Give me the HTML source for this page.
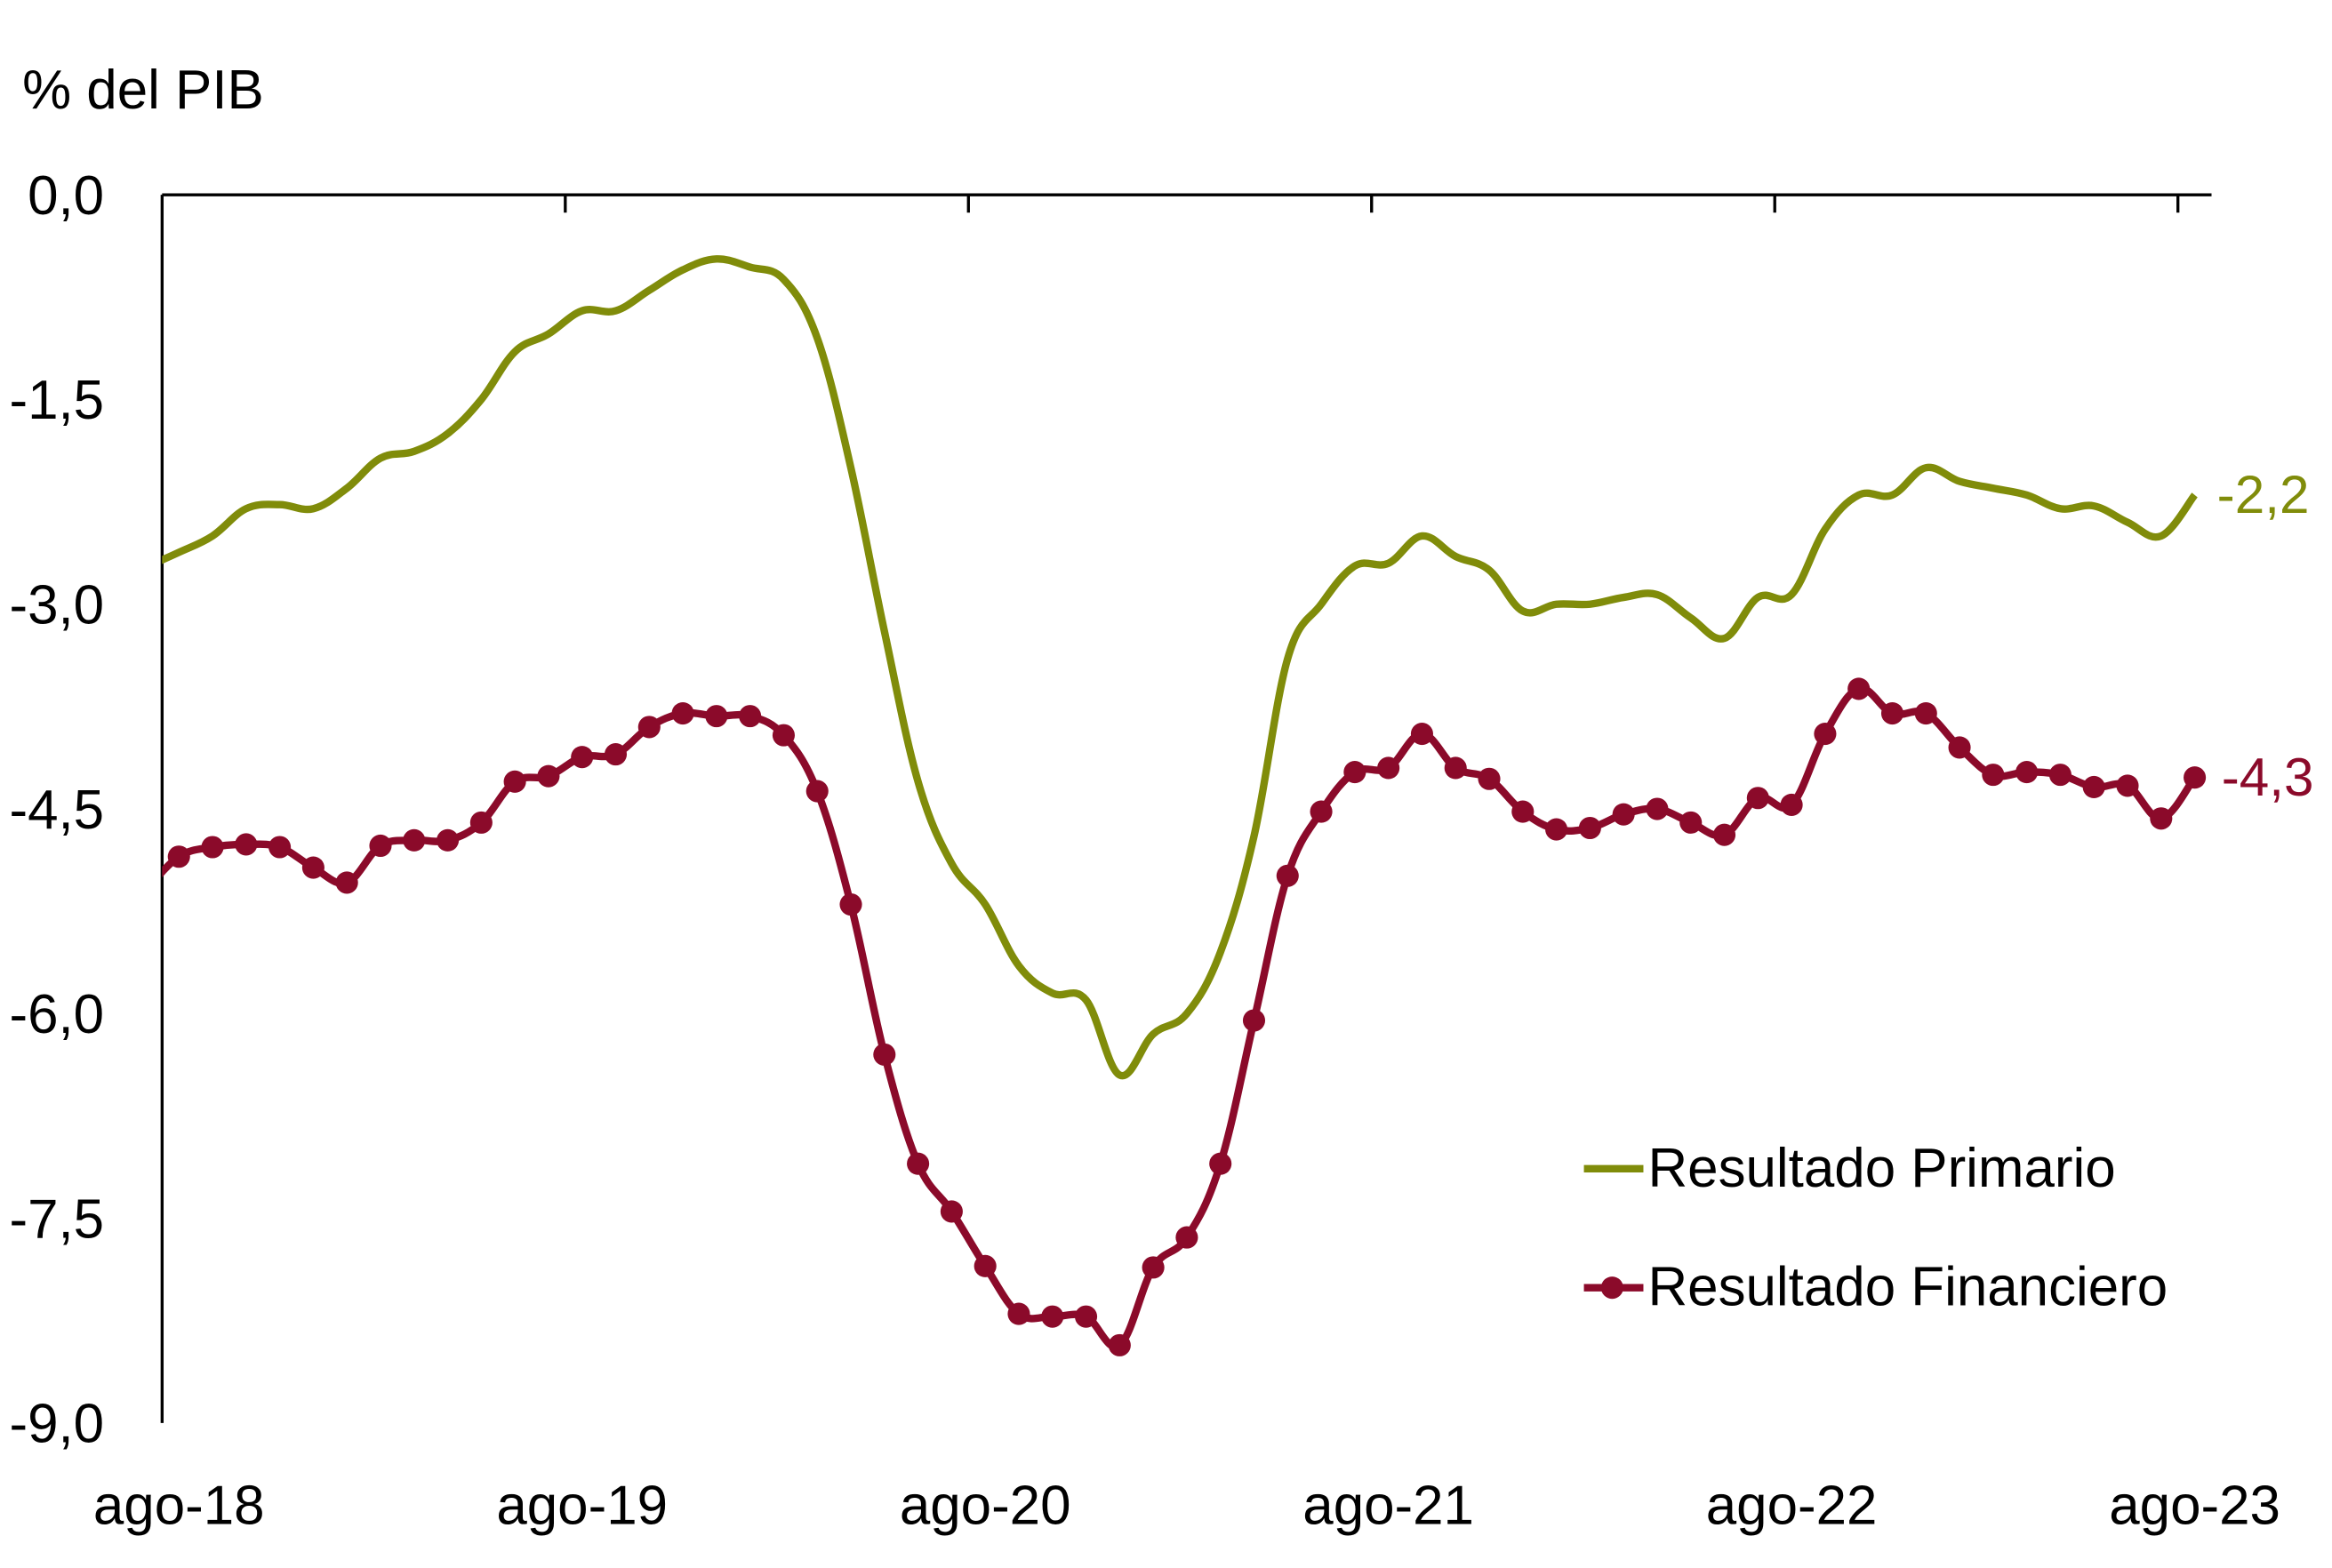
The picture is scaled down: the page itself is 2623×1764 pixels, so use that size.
<!DOCTYPE html>
<html><head><meta charset="utf-8"><style>
html,body{margin:0;padding:0;background:#fff}
svg{display:block;font-family:"Liberation Sans",sans-serif}
</style></head><body>
<svg id="chart" width="2623" height="1764" viewBox="0 0 1568 1054.5" xmlns="http://www.w3.org/2000/svg">
<defs><clipPath id="plotclip"><rect x="109" y="100" width="1400" height="880"/></clipPath></defs>
<text x="15" y="73" font-size="37" fill="#000">% del PIB</text>
<g id="yaxis"></g>
<g id="xaxis"></g>
<g id="series" clip-path="url(#plotclip)"></g>
<g id="labels"></g>
<g>
 <g>
  <line x1="1065" y1="786" x2="1105" y2="786" stroke="#808c0a" stroke-width="5"/>
  <text x="1108" y="798" font-size="37" fill="#000">Resultado Primario</text>
 </g>
 <g>
  <line x1="1065" y1="866" x2="1105" y2="866" stroke="#8b0a2a" stroke-width="5"/>
  <circle cx="1084" cy="866" r="7.5" fill="#8b0a2a"/>
  <text x="1108" y="878" font-size="37" fill="#000">Resultado Financiero</text>
 </g>
</g>
</svg>
<script>
const categories = ["jul-18"].concat((function(){const m=["ago","sep","oct","nov","dic","ene","feb","mar","abr","may","jun","jul"];const out=[];let y=18;for(let i=0;i<61;i++){const mm=m[i%12];if(mm==="ene")y++;out.push(mm+"-"+y);}return out;})());
const primario = [-2.73,-2.62,-2.5,-2.3,-2.27,-2.3,-2.15,-1.93,-1.88,-1.75,-1.5,-1.15,-1.02,-0.85,-0.85,-0.7,-0.55,-0.47,-0.53,-0.62,-1.05,-2.0,-3.2,-4.3,-4.9,-5.2,-5.65,-5.85,-5.9,-6.45,-6.15,-6.0,-5.55,-4.7,-3.4,-3.0,-2.72,-2.7,-2.5,-2.65,-2.75,-3.05,-3.0,-3.0,-2.95,-2.93,-3.1,-3.25,-2.95,-2.93,-2.45,-2.2,-2.2,-2.0,-2.1,-2.15,-2.2,-2.3,-2.28,-2.4,-2.5,-2.2];
const financiero = [-5.1,-4.85,-4.78,-4.76,-4.78,-4.93,-5.04,-4.77,-4.73,-4.73,-4.6,-4.3,-4.26,-4.12,-4.1,-3.9,-3.8,-3.82,-3.82,-3.96,-4.37,-5.2,-6.3,-7.1,-7.45,-7.85,-8.2,-8.22,-8.22,-8.43,-7.86,-7.64,-7.1,-6.05,-4.99,-4.52,-4.23,-4.2,-3.95,-4.2,-4.28,-4.52,-4.65,-4.64,-4.54,-4.5,-4.6,-4.69,-4.42,-4.47,-3.95,-3.62,-3.8,-3.8,-4.05,-4.25,-4.23,-4.25,-4.34,-4.33,-4.57,-4.27];
const yTicks = [0,-1.5,-3,-4.5,-6,-7.5,-9];
const yTickLabels = ["0,0","-1,5","-3,0","-4,5","-6,0","-7,5","-9,0"];
const xTickLabels = ["ago-18","ago-19","ago-20","ago-21","ago-22","ago-23"];
const endLabels = ["-2,2","-4,3"];

const NS="http://www.w3.org/2000/svg";
const X0=109, BAND=22.59, Y0=131, Y1=957, VMIN=-9, VMAX=0;
function xScale(i){return X0+(i-1)*BAND+BAND/2;} // index 0 = jul-18 (clipped)
function yScale(v){return Y0+(VMAX-v)/(VMAX-VMIN)*(Y1-Y0);}
function el(t,a,p){const e=document.createElementNS(NS,t);for(const k in a)e.setAttribute(k,a[k]);p.appendChild(e);return e;}
const ya=document.getElementById('yaxis'), xa=document.getElementById('xaxis');
el('line',{x1:X0,y1:Y0,x2:X0,y2:Y1,stroke:'#000','stroke-width':2},ya);
yTicks.forEach((v,i)=>{const t=el('text',{x:70,y:yScale(v)+13,'font-size':37,'text-anchor':'end',fill:'#000'},ya);t.textContent=yTickLabels[i];

});
el('line',{x1:X0,y1:Y0,x2:1487,y2:Y0,stroke:'#000','stroke-width':2},xa);
xTickLabels.forEach((lab,j)=>{const i=1+j*12;const c=xScale(i);
 if(j>0){const tk=el('line',{x1:c-BAND/2,y1:Y0,x2:c-BAND/2,y2:Y0+12,stroke:'#000','stroke-width':2},xa);
 
 }
 const t=el('text',{x:c,y:1025,'font-size':37,'text-anchor':'middle',fill:'#000'},xa);t.textContent=lab;
 
 });
function smoothPath(vals){const p=vals.map((v,i)=>[xScale(i),yScale(v)]);let d='M'+p[0][0]+','+p[0][1];
 for(let i=0;i<p.length-1;i++){const a=p[Math.max(0,i-1)],b=p[i],c=p[i+1],e=p[Math.min(p.length-1,i+2)];
 const t=0.18;d+=' C'+(b[0]+(c[0]-a[0])*t)+','+(b[1]+(c[1]-a[1])*t)+' '+(c[0]-(e[0]-b[0])*t)+','+(c[1]-(e[1]-b[1])*t)+' '+c[0]+','+c[1];}return d;}
const s=document.getElementById('series');
const gp=el('path',{d:smoothPath(primario),fill:'none',stroke:'#808c0a','stroke-width':5},s);


const rp=el('path',{d:smoothPath(financiero),fill:'none',stroke:'#8b0a2a','stroke-width':5},s);


financiero.forEach((v,i)=>{const c=el('circle',{cx:xScale(i),cy:yScale(v),r:7.5,fill:'#8b0a2a'},s);
 
 });
const lg=document.getElementById('labels');
const n=primario.length-1;
const l1=el('text',{x:xScale(n)+15,y:yScale(primario[n])+12,'font-size':36,fill:'#808c0a'},lg);l1.textContent=endLabels[0];


const l2=el('text',{x:xScale(n)+18,y:yScale(financiero[n])+12,'font-size':36,fill:'#8b0a2a'},lg);l2.textContent=endLabels[1];


</script>
</body></html>
